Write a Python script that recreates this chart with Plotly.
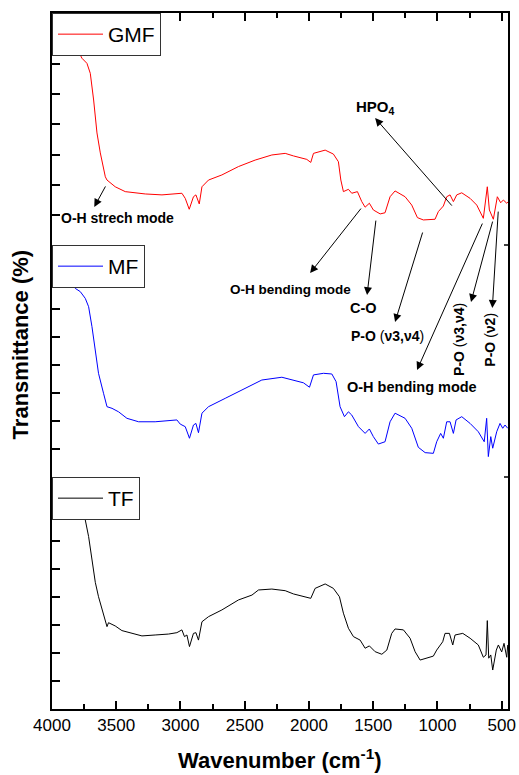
import plotly.graph_objects as go

# ---------------- data ----------------
wn_gmf = [4000, 3858, 3806, 3767, 3728, 3702, 3676, 3650, 3624, 3585, 3572, 3508, 3430, 3274, 3144,
          3015, 2989, 2963, 2932, 2899, 2880, 2854, 2833, 2782, 2678, 2549, 2419, 2289, 2185, 2121,
          2017, 1986, 1965, 1874, 1810, 1771, 1752, 1732, 1693, 1667, 1623, 1589, 1563, 1530, 1499,
          1446, 1408, 1369, 1330, 1252, 1200, 1156, 1110, 1019, 993, 954, 928, 902, 876, 850, 811,
          746, 694, 643, 630, 612, 596, 565, 534, 508, 487, 461, 449]
t_gmf = [86.2, 86.2, 84.8, 80.5, 78.3, 74.0, 62.5, 48.3, 39.7, 29.4, 28.0, 25.1, 23.0, 22.0, 21.6,
         22.0, 22.3, 20.1, 15.4, 20.8, 21.6, 17.7, 25.1, 28.0, 30.2, 33.8, 36.6, 38.8, 39.5, 38.4,
         36.9, 35.6, 39.5, 40.9, 39.2, 35.9, 28.0, 23.0, 24.0, 22.3, 23.0, 18.7, 16.3, 18.0, 15.1,
         13.4, 13.9, 20.8, 23.3, 20.8, 17.2, 11.8, 10.8, 11.1, 14.4, 16.8, 20.8, 21.6, 18.7, 21.6, 22.5,
         20.1, 17.2, 11.5, 16.5, 25.1, 15.1, 11.1, 20.8, 18.2, 19.4, 18.0, 18.7]

wn_mf = [4000, 3949, 3897, 3858, 3819, 3780, 3741, 3715, 3689, 3663, 3638, 3599, 3572, 3533, 3482,
         3417, 3326, 3197, 3067, 3028, 3002, 2963, 2930, 2899, 2880, 2860, 2833, 2782, 2652, 2497,
         2367, 2211, 2121, 2043, 1996, 1965, 1887, 1822, 1789, 1758, 1724, 1693, 1667, 1615, 1563,
         1530, 1499, 1460, 1408, 1369, 1330, 1252, 1200, 1149, 1096, 1032, 1006, 975, 954, 928, 902,
         876, 855, 811, 746, 682, 636, 617, 604, 585, 570, 539, 513, 492, 474, 453]
t_mf = [83.5, 84.2, 83.5, 83.7, 81.3, 79.9, 77.0, 73.4, 64.8, 53.3, 44.7, 36.1, 30.3, 29.6, 28.1,
        25.3, 23.8, 23.8, 24.3, 24.6, 22.8, 21.7, 16.7, 22.4, 23.1, 19.1, 27.5, 30.3, 33.9, 38.2,
        41.8, 43.0, 41.8, 40.6, 38.7, 44.0, 44.7, 44.4, 41.1, 30.3, 26.0, 28.1, 26.7, 21.7, 18.8,
        20.7, 17.4, 14.2, 15.2, 23.8, 27.5, 25.3, 21.0, 12.8, 10.5, 10.2, 15.2, 18.8, 16.7, 23.8, 23.8,
        18.8, 24.6, 26.0, 23.1, 19.5, 15.2, 25.3, 8.8, 17.4, 12.4, 19.5, 23.1, 21.0, 22.4, 21.0]

wn_tf = [4000, 3900, 3830, 3793, 3767, 3741, 3715, 3689, 3663, 3638, 3617, 3572, 3560, 3508, 3456,
         3378, 3300, 3197, 3093, 3028, 2989, 2969, 2950, 2930, 2899, 2880, 2860, 2833, 2782, 2678,
         2549, 2444, 2393, 2289, 2185, 2121, 2004, 1986, 1952, 1874, 1810, 1763, 1732, 1693, 1654,
         1602, 1563, 1530, 1485, 1433, 1394, 1356, 1330, 1265, 1213, 1174, 1135, 1083, 1032, 1006,
         980, 959, 941, 907, 881, 863, 803, 746, 682, 643, 622, 612, 601, 585, 570, 542, 526, 500,
         482, 461, 453]
t_tf = [105.0, 103.0, 97.0, 87.2, 85.0, 81.5, 74.3, 64.2, 54.6, 48.4, 44.1, 35.5, 37.2, 35.8, 33.8,
        32.6, 31.5, 31.9, 32.3, 32.9, 34.1, 31.2, 31.9, 26.9, 32.6, 32.9, 29.7, 37.6, 39.8, 42.7,
        47.0, 49.1, 51.3, 51.7, 51.0, 49.6, 48.1, 47.7, 52.0, 53.9, 52.0, 48.4, 41.3, 34.8, 31.2,
        29.7, 26.2, 27.2, 24.7, 23.6, 25.4, 32.6, 34.5, 34.1, 30.5, 24.7, 21.1, 21.9, 22.8, 25.4,
        27.6, 29.0, 32.6, 32.6, 27.6, 31.9, 32.6, 30.5, 27.6, 22.3, 23.3, 38.1, 21.9, 23.3, 16.8,
        25.4, 27.6, 24.6, 28.3, 22.3, 27.6]

x_ticks = [4000, 3500, 3000, 2500, 2000, 1500, 1000, 500]
x_range = [4000, 451]

FONT = "Arial, Liberation Sans, sans-serif"

fig = go.Figure()
fig.add_trace(go.Scatter(x=wn_tf, y=t_tf, mode="lines", name="TF",
                         line=dict(color="#000000", width=1), xaxis="x", yaxis="y",
                         legend="legend"))
fig.add_trace(go.Scatter(x=wn_mf, y=t_mf, mode="lines", name="MF",
                         line=dict(color="#0000ff", width=1), xaxis="x", yaxis="y2",
                         legend="legend2"))
fig.add_trace(go.Scatter(x=wn_gmf, y=t_gmf, mode="lines", name="GMF",
                         line=dict(color="#ff0000", width=1), xaxis="x2", yaxis="y3",
                         legend="legend3"))

common_y = dict(range=[0, 100], showticklabels=False, showgrid=False, zeroline=False,
                showline=True, linecolor="black", linewidth=1.5, mirror=True,
                ticks="inside", ticklen=8, tickwidth=1.5, tickcolor="black", tickmode="linear",
                tick0=0, automargin=False)

legend_common = dict(xanchor="left", yanchor="top", x=0, bgcolor="white",
                     bordercolor="#333333", borderwidth=1,
                     font=dict(family=FONT, size=21, color="black"),
                     tracegroupgap=0, itemwidth=45)

fig.update_layout(
    width=519, height=775,
    margin=dict(l=52, r=11, t=13, b=66, autoexpand=False),
    plot_bgcolor="white", paper_bgcolor="white",
    font=dict(family=FONT, color="black"),
    xaxis=dict(range=x_range, anchor="y", domain=[0, 1], tickmode="array", tickvals=x_ticks,
               ticktext=[str(v) for v in x_ticks], ticks="inside", ticklen=8, tickwidth=1.5,
               tickcolor="black", showline=True, linecolor="black", linewidth=1.5,
               showgrid=False, zeroline=False, mirror=False, automargin=False,
               tickfont=dict(family=FONT, size=17, color="black"),
               minor=dict(ticks="inside", dtick=250, tick0=0, ticklen=5, tickwidth=1.5,
                          tickcolor="black", showgrid=False)),
    xaxis2=dict(range=x_range, anchor="y3", side="top", matches="x", domain=[0, 1],
                tickmode="array", tickvals=x_ticks, showticklabels=False, automargin=False,
                ticks="inside", ticklen=8, tickwidth=1.5, tickcolor="black",
                showline=True, linecolor="black", linewidth=1.5, showgrid=False, zeroline=False,
                minor=dict(ticks="inside", dtick=250, tick0=0, ticklen=5, tickwidth=1.5,
                           tickcolor="black", showgrid=False)),
    yaxis=dict(domain=[0, 1/3], anchor="x", dtick=12.1, **common_y),
    yaxis2=dict(domain=[1/3, 2/3], anchor="x", dtick=12.1, **common_y),
    yaxis3=dict(domain=[2/3, 1], anchor="x2", dtick=13, **common_y),
    legend=dict(y=1/3, **legend_common),
    legend2=dict(y=2/3, **legend_common),
    legend3=dict(y=1.0, **legend_common),
    showlegend=True,
)

# small ticks on the right frame at the panel boundaries
for yb in [1/3, 2/3]:
    fig.add_shape(type="line", xref="paper", yref="paper", x0=1, x1=1 - 4/456, y0=yb, y1=yb,
                  line=dict(color="black", width=1.5))

# axis titles
fig.add_annotation(text="<b>Transmittance (%)</b>", xref="paper", yref="paper",
                   x=-0.070, y=0.524, xanchor="center", yanchor="middle",
                   textangle=-90, showarrow=False,
                   font=dict(family=FONT, size=22, color="black"))
fig.add_annotation(text="<b>Wavenumber (cm<sup>-1</sup>)</b>", xref="paper", yref="paper",
                   x=0.5, y=-0.0935, xanchor="center", yanchor="bottom", showarrow=False,
                   borderpad=0, font=dict(family=FONT, size=22, color="black"))

# arrows: (head wavenumber, head value, axis, tail pixel offset dx, dy)
arrows = [
    (3671, 16.4, "y3", 12, -22),
    (1485, 54.7, "y3", 78, 89),
    (1991, 87.9, "y2", 52, -66),
    (1548, 78.4, "y2", 9, -76),
    (1330, 66.8, "y2", 28, -91),
    (1159, 46.1, "y2", 66, -148),
    (739, 75.4, "y2", 22, -82),
    (573, 72.8, "y2", 6, -98),
]
for hx, hy, yr, dx, dy in arrows:
    xr = "x2" if yr == "y3" else "x"
    fig.add_annotation(x=hx, y=hy, xref=xr, yref=yr, text="", showarrow=True,
                       ax=dx, ay=dy, axref="pixel", ayref="pixel",
                       arrowhead=2, arrowsize=1.6, arrowwidth=1, arrowcolor="black",
                       standoff=0, startstandoff=0)

labels = [
    ("<b>O-H strech mode</b>", 3488, 11.6, "y3", 0, 14),
    ("<b>HPO<sub>4</sub></b>", 1485, 59.1, "y3", 0, 15),
    ("<b>O-H bending mode</b>", 2147, 81.0, "y2", 0, 13.5),
    ("<b>C-O</b>", 1575, 72.8, "y2", 0, 14.5),
    ("<b>P-O</b> (<b>ν3,ν4</b>)", 1392, 60.8, "y2", 0, 14),
    ("<b>O-H bending mode</b>", 1201, 38.8, "y2", 0, 14.5),
    ("<b>P-O</b> (<b>ν3,ν4</b>)", 832, 59.1, "y2", -90, 14),
    ("<b>P-O</b> (<b>ν2</b>)", 593, 59.1, "y2", -90, 14),
]
for txt, lx, ly, yr, ang, sz in labels:
    xr = "x2" if yr == "y3" else "x"
    fig.add_annotation(text=txt, x=lx, y=ly, xref=xr, yref=yr, showarrow=False,
                       textangle=ang, font=dict(family=FONT, size=sz, color="black"))

fig.write_html("out.html")
